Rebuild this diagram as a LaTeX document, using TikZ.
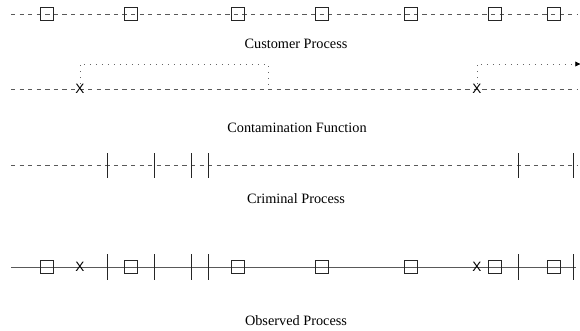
\documentclass[tikz,border=0pt]{standalone}
\usepackage{fontspec}
\setmainfont{Liberation Serif}
\newfontfamily\markfont{Liberation Sans}
\usetikzlibrary{positioning}
\usetikzlibrary{arrows.meta}
\tikzset{every node/.style={inner sep=0pt},
    hidden/.style={
        draw=black!65,
        dashed,
        line width=0.6pt},
    seen/.style={
        draw=black!65,
        line width=0.6pt},
    event/.style={
        draw=black!85,
        rectangle,
        minimum size=8.6pt,
        line width=0.55pt},
    crime/.style={
        draw=black!85,
        line width=0.6pt},
    slip/.style={
        font=\markfont\fontsize{9.5}{10}\selectfont},
    leak/.style={
        draw=black!60,
        dash pattern=on 0.8pt off 3.4pt,
        line width=0.6pt},
    caption/.style={
        font=\fontsize{10}{12}\selectfont}}

\begin{document}
\begin{tikzpicture}[x=0.7pt,y=-0.7pt]
        \useasboundingbox (0,0) rectangle (580,330);

        % customer process
        \coordinate (cs) at (11,14);
        \coordinate (ce) at (578,14);
        \draw[hidden] (cs) -- (ce);
        \foreach \x [count=\i] in {47,131,238,322,411,495,554}
            \node[event] (cust\i) at (\x,14) {};
        \node[caption] (lcust) at (296,44) {Customer Process};

        % contamination function
        \coordinate (ks) at (11,89);
        \coordinate (ke) at (578,89);
        \draw[hidden] (ks) -- (ke);
        \node[slip] (cont1) at (80,89) {X};
        \node[slip] (cont2) at (477,89) {X};
        \coordinate (back1) at (268,89);
        \coordinate (out1) at (581,64);
        \draw[leak] (cont1.north) |- (back1 |- out1) -- (back1);
        \draw[leak,-{Latex[length=4pt,width=3.8pt,fill=black,color=black]}] (cont2.north) |- (out1);
        \node[caption] (lcont) at (297,128) {Contamination Function};

        % criminal process
        \coordinate (rs) at (11,165);
        \coordinate (re) at (578,165);
        \draw[hidden] (rs) -- (re);
        \foreach \x in {107,154,191,208,518,573}
            \draw[crime] (\x,153) -- (\x,178);
        \node[caption] (lcrim) at (296,199) {Criminal Process};

        % observed process
        \coordinate (os) at (11,267);
        \coordinate (oe) at (576,267);
        \draw[seen] (os) -- (oe);
        \foreach \x [count=\i] in {47,131,238,322,411,495,554}
            \node[event] (obs\i) at (\x,267) {};
        \node[slip] (obsx1) at (80,267) {X};
        \node[slip] (obsx2) at (477,267) {X};
        \foreach \x in {107,154,191,208,518,573}
            \draw[crime] (\x,254) -- (\x,280);
        \node[caption] (lobs) at (296,321) {Observed Process};
    \end{tikzpicture}
\end{document}
